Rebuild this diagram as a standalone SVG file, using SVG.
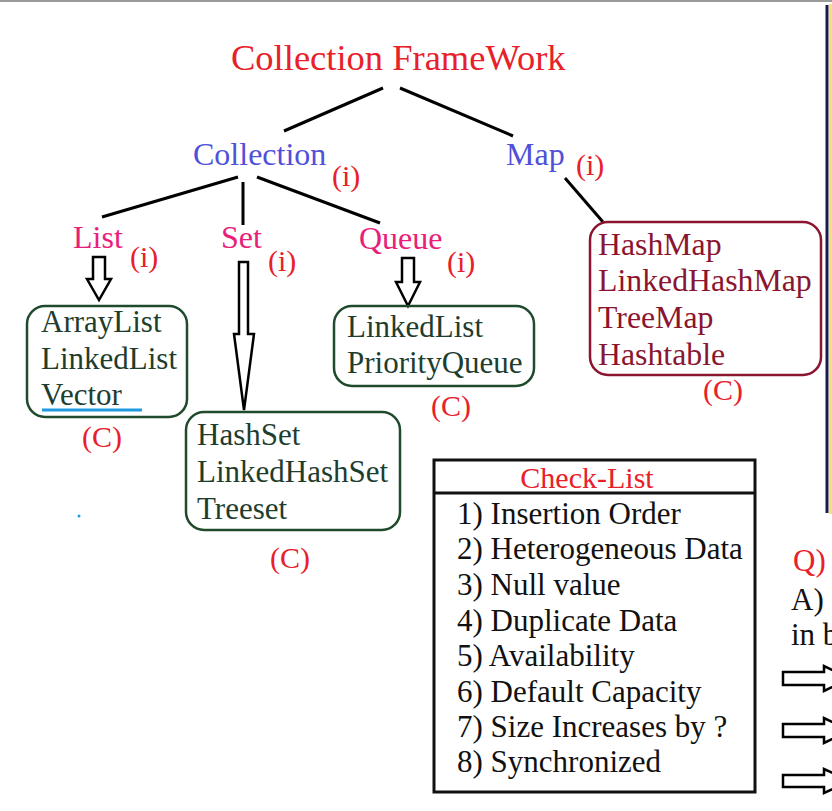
<svg xmlns="http://www.w3.org/2000/svg" width="832" height="811" viewBox="0 0 832 811">
<defs>
<style>
text{font-family:"Liberation Serif","Times New Roman",serif;}
.title{fill:#e8202a;font-size:36.5px;}
.iface{fill:#5050d8;font-size:32px;}
.sub{fill:#e8207a;font-size:32px;}
.tag{fill:#e8202a;font-size:30px;}
.item{fill:#1e3d2e;font-size:31px;}
.mitem{fill:#8b1530;font-size:31.8px;}
.gbox{fill:none;stroke:#1f4a2c;stroke-width:2.5;}
.mbox{fill:none;stroke:#8b1530;stroke-width:2.5;}
.edge{stroke:#000;stroke-width:3;fill:none;}
.barrow{fill:#fff;stroke:#000;stroke-width:2.5;stroke-linejoin:miter;}
.chk{fill:#111;font-size:31px;}
</style>
</defs>
<rect x="0" y="0" width="832" height="811" fill="#fff"/>
<rect x="0" y="0" width="832" height="2" fill="#9a9a9a"/>
<rect x="829" y="4" width="3" height="510" fill="#f3e27a"/>
<line x1="827" y1="5" x2="827" y2="513" stroke="#1a1a4a" stroke-width="3"/>

<g id="connectors">
<line class="edge" x1="383" y1="88" x2="284" y2="131"/>
<line class="edge" x1="400" y1="88" x2="513" y2="136"/>
<line class="edge" x1="238" y1="177" x2="102" y2="217"/>
<line class="edge" x1="243" y1="182" x2="243" y2="225"/>
<line class="edge" x1="257" y1="177" x2="380" y2="223"/>
<line class="edge" x1="565" y1="178" x2="603" y2="222"/>
<path class="barrow" d="M93,257 L105,257 L105,279 L111,279 L99,300 L87,279 L93,279 Z"/>
<path class="barrow" d="M239,262 L248,262 L248,334 L254,334 L244,410 L234,334 L239,334 Z"/>
<path class="barrow" d="M402,258 L414,258 L414,282 L420,282 L408,306 L396,282 L402,282 Z"/>
</g>

<g id="root">
<text class="title" x="231" y="70">Collection FrameWork</text>
</g>

<g id="collection">
<text class="iface" x="193" y="165">Collection</text>
<text class="tag" x="332" y="186">(i)</text>
</g>

<g id="map">
<text class="iface" x="506" y="165">Map</text>
<text class="tag" x="576" y="175">(i)</text>
</g>

<g id="list">
<text class="sub" x="73" y="248">List</text>
<text class="tag" x="130" y="267">(i)</text>
</g>

<g id="set">
<text class="sub" x="221" y="248">Set</text>
<text class="tag" x="268" y="271">(i)</text>
</g>

<g id="queue">
<text class="sub" x="359" y="249">Queue</text>
<text class="tag" x="447" y="272">(i)</text>
</g>

<g id="list-classes">
<rect class="gbox" x="27" y="306" width="160" height="111" rx="18"/>
<text class="item" x="41" y="332">ArrayList</text>
<text class="item" x="41" y="369">LinkedList</text>
<text class="item" x="41" y="405">Vector</text>
<line x1="42" y1="410" x2="142" y2="410" stroke="#1e9be0" stroke-width="3"/>
<text class="tag" x="82" y="447">(C)</text>
</g>

<g id="set-classes">
<rect class="gbox" x="186" y="412" width="214" height="118" rx="18"/>
<text class="item" x="197" y="445">HashSet</text>
<text class="item" x="197" y="482">LinkedHashSet</text>
<text class="item" x="197" y="519">Treeset</text>
<text class="tag" x="270" y="568">(C)</text>
</g>

<g id="queue-classes">
<rect class="gbox" x="334" y="306" width="200" height="80" rx="18"/>
<text class="item" x="347" y="337">LinkedList</text>
<text class="item" x="347" y="373">PriorityQueue</text>
<text class="tag" x="431" y="416">(C)</text>
</g>

<g id="map-classes">
<rect class="mbox" x="590" y="222" width="231" height="153" rx="18"/>
<text class="mitem" x="598" y="255">HashMap</text>
<text class="mitem" x="598" y="291">LinkedHashMap</text>
<text class="mitem" x="598" y="328">TreeMap</text>
<text class="mitem" x="598" y="365">Hashtable</text>
<text class="tag" x="703" y="400">(C)</text>
</g>

<g id="checklist">
<rect x="434" y="460" width="321" height="332" fill="#fff" stroke="#111" stroke-width="3"/>
<line x1="434" y1="493" x2="755" y2="493" stroke="#111" stroke-width="3"/>
<text class="tag" x="587" y="488" text-anchor="middle">Check-List</text>
<text class="chk" x="457" y="524">1) Insertion Order</text>
<text class="chk" x="457" y="559">2) Heterogeneous Data</text>
<text class="chk" x="457" y="595">3) Null value</text>
<text class="chk" x="457" y="631">4) Duplicate Data</text>
<text class="chk" x="457" y="666">5) Availability</text>
<text class="chk" x="457" y="702">6) Default Capacity</text>
<text class="chk" x="457" y="737">7) Size Increases by ?</text>
<text class="chk" x="457" y="772">8) Synchronized</text>
</g>

<g id="side">
<text class="tag" x="793" y="571" style="font-size:31px">Q)</text>
<text class="chk" x="791" y="610">A)</text>
<text class="chk" x="791" y="645">in b</text>
<path class="barrow" d="M783,672 L824,672 L824,666 L850,678.5 L824,691 L824,685 L783,685 Z"/>
<path class="barrow" d="M783,724 L824,724 L824,718 L850,730.5 L824,743 L824,737 L783,737 Z"/>
<path class="barrow" d="M783,775 L824,775 L824,769 L850,781 L824,793 L824,787 L783,787 Z"/>
</g>

<circle cx="79" cy="516" r="1.5" fill="#1e9be0"/>
</svg>
